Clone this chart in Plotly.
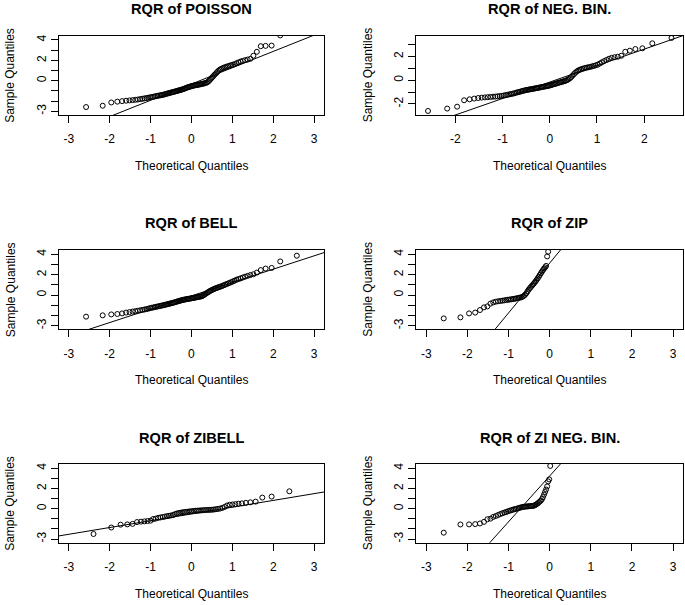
import plotly.graph_objects as go

# ---------------- data ----------------
TITLES = ["RQR of POISSON", "RQR of NEG. BIN.", "RQR of BELL", "RQR of ZIP",
          "RQR of ZIBELL", "RQR of ZI NEG. BIN."]

# theoretical normal quantiles, n = 100
Q100 = [-2.5758, -2.1701, -1.9600, -1.8119, -1.6954, -1.5982, -1.5141, -1.4395, -1.3722, -1.3106,
        -1.2536, -1.2004, -1.1503, -1.1031, -1.0581, -1.0152, -0.9741, -0.9346, -0.8965, -0.8596,
        -0.8239, -0.7892, -0.7554, -0.7225, -0.6903, -0.6588, -0.6280, -0.5978, -0.5681, -0.5388,
        -0.5101, -0.4817, -0.4538, -0.4261, -0.3989, -0.3719, -0.3451, -0.3186, -0.2924, -0.2663,
        -0.2404, -0.2147, -0.1891, -0.1637, -0.1383, -0.1130, -0.0878, -0.0627, -0.0376, -0.0125,
        0.0125, 0.0376, 0.0627, 0.0878, 0.1130, 0.1383, 0.1637, 0.1891, 0.2147, 0.2404,
        0.2663, 0.2924, 0.3186, 0.3451, 0.3719, 0.3989, 0.4261, 0.4538, 0.4817, 0.5101,
        0.5388, 0.5681, 0.5978, 0.6280, 0.6588, 0.6903, 0.7225, 0.7554, 0.7892, 0.8239,
        0.8596, 0.8965, 0.9346, 0.9741, 1.0152, 1.0581, 1.1031, 1.1503, 1.2004, 1.2536,
        1.3106, 1.3722, 1.4395, 1.5141, 1.5982, 1.6954, 1.8119, 1.9600, 2.1701, 2.5758]

# theoretical normal quantiles, n = 60
Q60 = [-2.394, -1.960, -1.732, -1.569, -1.440, -1.331, -1.235, -1.150, -1.073, -1.001,
       -0.935, -0.872, -0.812, -0.755, -0.701, -0.649, -0.598, -0.549, -0.501, -0.454,
       -0.408, -0.363, -0.319, -0.275, -0.232, -0.189, -0.147, -0.105, -0.063, -0.021,
       0.021, 0.063, 0.105, 0.147, 0.189, 0.232, 0.275, 0.319, 0.363, 0.408,
       0.454, 0.501, 0.549, 0.598, 0.649, 0.701, 0.755, 0.812, 0.872, 0.935,
       1.001, 1.073, 1.150, 1.235, 1.331, 1.440, 1.569, 1.732, 1.960, 2.394]

POISSON = [-2.58, -2.45, -2.13, -2.05, -2.00, -1.96, -1.93, -1.90, -1.87, -1.84,
           -1.80, -1.77, -1.73, -1.70, -1.67, -1.63, -1.60, -1.57, -1.54, -1.51,
           -1.48, -1.45, -1.42, -1.40, -1.37, -1.34, -1.30, -1.27, -1.23, -1.20,
           -1.17, -1.14, -1.11, -1.08, -1.05, -1.02, -0.99, -0.96, -0.93, -0.90,
           -0.87, -0.84, -0.80, -0.76, -0.72, -0.68, -0.64, -0.61, -0.58, -0.55,
           -0.52, -0.49, -0.47, -0.45, -0.43, -0.41, -0.39, -0.37, -0.35, -0.32,
           -0.30, -0.28, -0.25, -0.22, -0.18, -0.12, -0.02, 0.10, 0.22, 0.35,
           0.48, 0.60, 0.72, 0.85, 0.98, 1.08, 1.15, 1.22, 1.28, 1.33,
           1.38, 1.43, 1.48, 1.53, 1.58, 1.64, 1.72, 1.80, 1.88, 1.95,
           2.02, 2.08, 2.15, 2.45, 2.84, 3.39, 3.42, 3.45, 4.45, 5.20]

NEGBIN = [-2.59, -2.39, -2.23, -1.69, -1.61, -1.55, -1.50, -1.47, -1.45, -1.43,
          -1.41, -1.39, -1.38, -1.36, -1.34, -1.32, -1.29, -1.26, -1.23, -1.20,
          -1.17, -1.14, -1.11, -1.07, -1.03, -1.00, -0.97, -0.93, -0.90, -0.87,
          -0.84, -0.82, -0.80, -0.78, -0.76, -0.74, -0.72, -0.70, -0.68, -0.66,
          -0.64, -0.62, -0.60, -0.58, -0.56, -0.54, -0.52, -0.50, -0.48, -0.46,
          -0.43, -0.40, -0.37, -0.34, -0.31, -0.28, -0.25, -0.22, -0.19, -0.16,
          -0.13, -0.10, -0.07, -0.03, 0.02, 0.08, 0.16, 0.26, 0.38, 0.50,
          0.62, 0.72, 0.80, 0.86, 0.91, 0.95, 0.99, 1.03, 1.06, 1.09,
          1.12, 1.16, 1.20, 1.25, 1.30, 1.40, 1.50, 1.60, 1.70, 1.80,
          1.88, 1.93, 1.97, 2.05, 2.39, 2.48, 2.62, 2.68, 3.10, 3.55]

BELL = [-2.12, -1.99, -1.90, -1.86, -1.80, -1.72, -1.67, -1.62, -1.58, -1.54,
        -1.50, -1.46, -1.42, -1.38, -1.34, -1.29, -1.25, -1.22, -1.18, -1.15,
        -1.12, -1.09, -1.06, -1.03, -1.00, -0.97, -0.94, -0.91, -0.88, -0.85,
        -0.82, -0.79, -0.76, -0.73, -0.70, -0.66, -0.63, -0.60, -0.57, -0.54,
        -0.51, -0.48, -0.46, -0.44, -0.42, -0.40, -0.38, -0.36, -0.35, -0.33,
        -0.31, -0.29, -0.27, -0.25, -0.23, -0.21, -0.19, -0.17, -0.15, -0.13,
        -0.09, -0.03, 0.04, 0.12, 0.19, 0.26, 0.33, 0.40, 0.46, 0.52,
        0.57, 0.62, 0.67, 0.72, 0.76, 0.80, 0.85, 0.90, 0.96, 1.02,
        1.08, 1.14, 1.20, 1.27, 1.34, 1.42, 1.50, 1.57, 1.64, 1.72,
        1.80, 1.88, 1.96, 2.04, 2.20, 2.45, 2.60, 2.66, 3.30, 3.86]

# visible points only (the rest lie above the plotting region)
ZIP = [-2.29, -2.19, -1.80, -1.72, -1.47, -1.21, -1.11, -0.84, -0.72, -0.65,
       -0.61, -0.58, -0.55, -0.52, -0.49, -0.46, -0.44, -0.42, -0.39, -0.37,
       -0.34, -0.31, -0.28, -0.25, -0.22, -0.16, -0.08, 0.03, 0.18, 0.36,
       0.54, 0.68, 0.81, 0.94, 1.07, 1.20, 1.33, 1.48, 1.64, 1.80,
       1.97, 2.14, 2.30, 2.45, 2.60, 2.72, 2.86, 3.79, 4.25]

ZIBELL = [-2.50, -1.86, -1.58, -1.55, -1.50, -1.32, -1.28, -1.25, -1.22, -1.18,
          -1.02, -0.98, -0.90, -0.86, -0.82, -0.78, -0.74, -0.70, -0.67, -0.63,
          -0.55, -0.48, -0.44, -0.40, -0.37, -0.34, -0.32, -0.30, -0.28, -0.26,
          -0.24, -0.22, -0.20, -0.19, -0.18, -0.17, -0.15, -0.14, -0.13, -0.12,
          -0.11, -0.10, -0.08, -0.05, -0.02, 0.02, 0.08, 0.18, 0.32, 0.39,
          0.42, 0.45, 0.49, 0.53, 0.58, 0.63, 0.70, 1.10, 1.20, 1.72]

ZINB = [-2.37, -1.56, -1.55, -1.52, -1.46, -1.30, -1.04, -0.98, -0.81, -0.72,
        -0.62, -0.53, -0.45, -0.38, -0.32, -0.26, -0.20, -0.15, -0.10, -0.05,
        -0.02, 0.02, 0.06, 0.10, 0.14, 0.17, 0.19, 0.21, 0.22, 0.23,
        0.24, 0.25, 0.26, 0.27, 0.29, 0.32, 0.38, 0.45, 0.52, 0.62,
        0.72, 0.80, 0.95, 1.15, 1.40, 1.65, 1.90, 2.20, 2.70, 2.90,
        4.23]

SAMPLES = [POISSON, NEGBIN, BELL, ZIP, ZIBELL, ZINB]
THEORETICAL = [Q100, Q100, Q100, Q100, Q60, Q100]

# reference lines (qqline) : intercept, slope
LINE_INTERCEPT = [-0.32, -0.16, -0.08, 3.14, -0.52, 3.24]
LINE_SLOPE = [1.60, 1.386, 1.31, 4.89, 0.67, 4.53]

# axis ranges / ticks
X_RANGES = [[-3.25, 3.24], [-2.83, 2.82], [-3.25, 3.24], [-3.25, 3.24], [-3.25, 3.24], [-3.25, 3.24]]
Y_RANGES = [[-3.36, 4.42], [-2.93, 3.74], [-3.36, 4.42], [-3.36, 4.42], [-3.36, 4.42], [-3.36, 4.42]]
X_TICKS_STD = [-3, -2, -1, 0, 1, 2, 3]
X_TICKS_NB = [-2, -1, 0, 1, 2]
Y_TICKS_STD = [-3, -2, -1, 0, 1, 2, 3, 4]
Y_TICKTEXT_STD = ["-3", "", "", "0", "", "2", "", "4"]
Y_TICKS_NB = [-2, -1, 0, 1, 2, 3]
Y_TICKTEXT_NB = ["-2", "", "0", "", "2", ""]

X_TITLE = "Theoretical Quantiles"
Y_TITLE = "Sample Quantiles"

# ---------------- layout geometry (pixels) ----------------
W, H = 685, 605
COLS = [(58.5, 324.0), (416.0, 683.0)]
ROWS = [(35.7, 115.0), (250.0, 329.3), (464.0, 542.7)]
FONT = "Liberation Sans, Arial, Helvetica, sans-serif"


def px_x(p):
    return p / W


def px_y(p):
    return 1 - p / H


fig = go.Figure()
annotations = []

for k in range(6):
    r, c = divmod(k, 2)
    xa = "x" if k == 0 else f"x{k+1}"
    ya = "y" if k == 0 else f"y{k+1}"
    xs = THEORETICAL[k][:len(SAMPLES[k])]
    fig.add_trace(go.Scatter(
        x=xs, y=SAMPLES[k], mode="markers", xaxis=xa, yaxis=ya,
        marker=dict(symbol="circle-open", size=5, color="black", line=dict(width=1, color="black")),
        showlegend=False, cliponaxis=True))
    x0, x1 = X_RANGES[k]
    lx = [x0 - 1, x1 + 1]
    ly = [LINE_INTERCEPT[k] + LINE_SLOPE[k] * v for v in lx]
    fig.add_trace(go.Scatter(
        x=lx, y=ly, mode="lines", xaxis=xa, yaxis=ya,
        line=dict(color="black", width=1), showlegend=False))

    left, right = COLS[c]
    top, bottom = ROWS[r]
    nb = (k == 1)
    axis_common = dict(showline=True, linecolor="black", linewidth=1, mirror=True,
                       showgrid=False, zeroline=False, ticks="outside", ticklen=7,
                       tickwidth=1, tickcolor="black",
                       tickfont=dict(family=FONT, size=12, color="black"),
                       fixedrange=True)
    xkey = "xaxis" if k == 0 else f"xaxis{k+1}"
    ykey = "yaxis" if k == 0 else f"yaxis{k+1}"
    fig.update_layout(**{
        xkey: dict(domain=[px_x(left), px_x(right)], range=X_RANGES[k], anchor=ya,
                   tickmode="array", tickvals=X_TICKS_NB if nb else X_TICKS_STD,
                   ticktext=[str(v) for v in (X_TICKS_NB if nb else X_TICKS_STD)],
                   ticklabelstandoff=6, **axis_common),
        ykey: dict(domain=[px_y(bottom), px_y(top)], range=Y_RANGES[k], anchor=xa,
                   tickmode="array", tickvals=Y_TICKS_NB if nb else Y_TICKS_STD,
                   ticktext=Y_TICKTEXT_NB if nb else Y_TICKTEXT_STD,
                   tickangle=-90, **axis_common),
    })

    cx = (left + right) / 2
    cy = (top + bottom) / 2
    annotations.append(dict(text=TITLES[k], x=px_x(cx), y=px_y(top - 26.5), xref="paper", yref="paper",
                            showarrow=False, xanchor="center", yanchor="middle",
                            font=dict(family=FONT, size=14.6, color="black", weight="bold")))
    annotations.append(dict(text=X_TITLE, x=px_x(cx), y=px_y(bottom + 51), xref="paper", yref="paper",
                            showarrow=False, xanchor="center", yanchor="middle",
                            font=dict(family=FONT, size=12, color="black")))
    annotations.append(dict(text=Y_TITLE, x=px_x(left - 48), y=px_y(cy), xref="paper", yref="paper",
                            showarrow=False, xanchor="center", yanchor="middle", textangle=-90,
                            font=dict(family=FONT, size=12, color="black")))

fig.update_layout(width=W, height=H, margin=dict(l=0, r=0, t=0, b=0),
                  paper_bgcolor="white", plot_bgcolor="white",
                  annotations=annotations, showlegend=False, hovermode=False)

fig.write_html("out.html", config={"displayModeBar": False, "staticPlot": True},
               post_script="document.body.style.margin='0';document.body.style.padding='0';")
